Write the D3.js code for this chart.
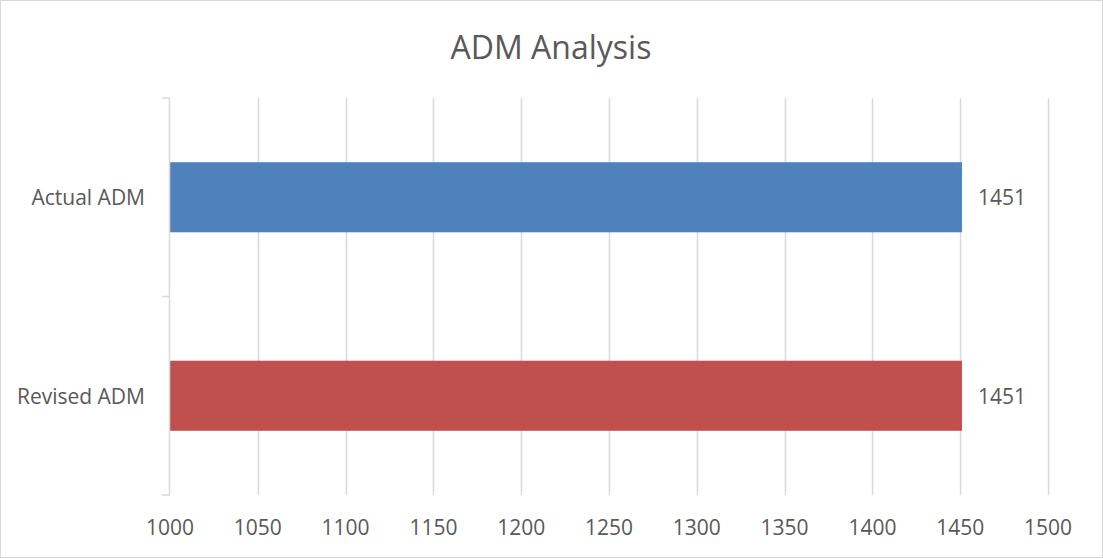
<!DOCTYPE html>
<html>
<head>
<meta charset="utf-8">
<script src="https://cdn.jsdelivr.net/npm/d3@7"></script>
<style>
  html, body { margin: 0; padding: 0; background: #fff; }
  svg { display: block; }
  text { font-family: "Open Sans", sans-serif; fill: #595959; }
</style>
</head>
<body>
<svg id="chart" width="1103" height="558"></svg>
<script>
const title = "ADM Analysis";
const categories = ["Actual ADM", "Revised ADM"];
const values = [1451, 1451];
const colors = ["#4F81BD", "#C0504D"];
const xTicks = [1000, 1050, 1100, 1150, 1200, 1250, 1300, 1350, 1400, 1450, 1500];

const svg = d3.select("#chart");
const W = 1103, H = 558;

svg.append("rect").attr("x", 0.5).attr("y", 0.5).attr("width", W - 1).attr("height", H - 1)
  .attr("fill", "#fff").attr("stroke", "#D9D9D9");

const x = d3.scaleLinear().domain([1000, 1500]).range([170, 1048]);
const y = d3.scaleBand().domain(categories).range([98, 495]).paddingInner(0.647).paddingOuter(0.3235);

// gridlines
svg.append("g").selectAll("line").data(xTicks.slice(1)).join("line")
  .attr("x1", d => Math.round(x(d)) + 0.5).attr("x2", d => Math.round(x(d)) + 0.5)
  .attr("y1", 98).attr("y2", 495)
  .attr("stroke", "#D9D9D9").attr("stroke-width", 1.5);

// bars
svg.append("g").selectAll("rect").data(categories).join("rect")
  .attr("x", x(1000))
  .attr("y", d => y(d))
  .attr("width", (d, i) => x(values[i]) - x(1000))
  .attr("height", y.bandwidth())
  .attr("fill", (d, i) => colors[i]);

// category axis line and ticks
const yAxis = svg.append("g");
yAxis.append("line").attr("x1", 169.5).attr("x2", 169.5).attr("y1", 98).attr("y2", 495)
  .attr("stroke", "#D9D9D9").attr("stroke-width", 1.5);
const step = y.step();
const bounds = d3.range(categories.length + 1).map(i => 98 + i * step);
yAxis.selectAll("line.tk").data(bounds).join("line").attr("class", "tk")
  .attr("x1", 162).attr("x2", 170).attr("y1", d => d).attr("y2", d => d)
  .attr("stroke", "#D9D9D9").attr("stroke-width", 1.5);

// category labels
svg.append("g").selectAll("text").data(categories).join("text")
  .attr("x", 145).attr("y", d => y(d) + y.bandwidth() / 2)
  .attr("text-anchor", "end").attr("dominant-baseline", "central")
  .attr("font-size", 21).text(d => d);

// value labels
svg.append("g").selectAll("text").data(categories).join("text")
  .attr("x", (d, i) => x(values[i]) + 16).attr("y", d => y(d) + y.bandwidth() / 2)
  .attr("dominant-baseline", "central")
  .attr("font-size", 21).text((d, i) => values[i]);

// x tick labels
svg.append("g").selectAll("text").data(xTicks).join("text")
  .attr("x", d => x(d)).attr("y", 527)
  .attr("text-anchor", "middle").attr("dominant-baseline", "central")
  .attr("font-size", 21).text(d => d);

// title
svg.append("text").attr("x", 551).attr("y", 46)
  .attr("text-anchor", "middle").attr("dominant-baseline", "central")
  .attr("font-size", 32).text(title);
</script>
</body>
</html>
